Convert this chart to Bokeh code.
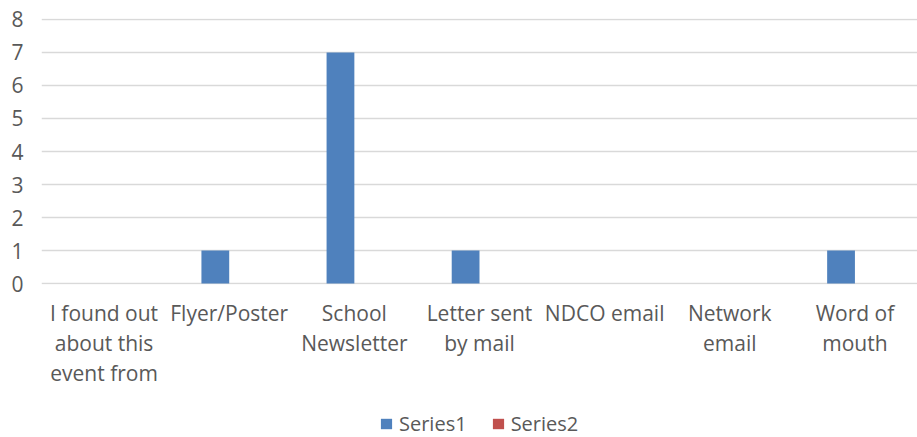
from bokeh.plotting import figure
from bokeh.layouts import column
from bokeh.models import (Range1d, Legend, LegendItem, ColumnDataSource, FixedTicker)
from bokeh.core.properties import value
from bokeh.embed import file_html
from bokeh.resources import INLINE

categories = ["I found out about this event from", "Flyer/Poster", "School Newsletter",
              "Letter sent by mail", "NDCO email", "Network email", "Word of mouth"]
series1 = [0, 1, 7, 1, 0, 0, 1]
series2 = [0, 0, 0, 0, 0, 0, 0]
tick_labels = ["I found out\nabout this\nevent from", "Flyer/Poster", "School\nNewsletter",
               "Letter sent\nby mail", "NDCO email", "Network\nemail", "Word of\nmouth"]
y_ticks = [0, 1, 2, 3, 4, 5, 6, 7, 8]

FONT = "Open Sans"
TXT = "#595959"
FS = "21px"
BAR_W = 0.222
C1, C2 = "#4F81BD", "#C0504D"

centers = [i + 0.5 for i in range(len(categories))]
src = ColumnDataSource(dict(
    x1=[c - BAR_W / 2 for c in centers], x2=[c + BAR_W / 2 for c in centers],
    s1=series1, s2=series2))

# main chart
p = figure(x_range=Range1d(0, len(categories)), y_range=Range1d(-0.03, 8.03),
           frame_width=876, frame_height=266, output_backend="svg", toolbar_location=None,
           x_axis_location=None,
           min_border_left=41, min_border_right=0, min_border_top=18, min_border_bottom=12)
p.outline_line_color = None

r1 = p.vbar(x="x1", top="s1", bottom=0, width=BAR_W, source=src, color=C1, line_color=None)
r2 = p.vbar(x="x2", top="s2", bottom=0, width=BAR_W, source=src, color=C2, line_color=None)

p.xgrid.visible = False
p.ygrid.grid_line_color = "#D9D9D9"
p.ygrid.grid_line_width = 1.3
p.yaxis.ticker = FixedTicker(ticks=y_ticks)
p.yaxis.axis_line_color = None
p.yaxis.major_tick_line_color = None
p.yaxis.minor_tick_line_color = None
p.yaxis.major_label_text_font = FONT
p.yaxis.major_label_text_font_size = FS
p.yaxis.major_label_text_color = TXT
p.yaxis.major_label_standoff = 12

# category labels + legend strip sharing the x scale
q = figure(x_range=p.x_range, y_range=Range1d(0, 141),
           frame_width=876, frame_height=141, output_backend="svg", toolbar_location=None,
           x_axis_location=None, y_axis_location=None,
           min_border_left=41, min_border_right=0, min_border_top=0, min_border_bottom=0)
q.outline_line_color = None
q.xgrid.visible = False
q.ygrid.visible = False

lab_src = ColumnDataSource(dict(x=centers, y=[139] * len(centers), t=tick_labels))
q.text(x="x", y="y", text="t", source=lab_src, text_align="center", text_baseline="top",
       text_font=value(FONT), text_font_size=FS, text_color=TXT, text_line_height=1.08)

# legend keys: same series drawn on a range that keeps them out of view
q.extra_y_ranges = {"keys": Range1d(100, 200)}
g1 = q.vbar(x="x1", top="s1", bottom=0, width=BAR_W, source=src, color=C1,
            line_color=None, y_range_name="keys")
g2 = q.vbar(x="x2", top="s2", bottom=0, width=BAR_W, source=src, color=C2,
            line_color=None, y_range_name="keys")

legend = Legend(items=[LegendItem(label="Series1", renderers=[g1]),
                       LegendItem(label="Series2", renderers=[g2])],
                orientation="horizontal", location=(338, 0),
                label_text_font=FONT, label_text_font_size="20px", label_text_color=TXT,
                glyph_width=14, glyph_height=13, spacing=24, label_standoff=6,
                border_line_color=None, background_fill_alpha=0, margin=0, padding=0)
q.add_layout(legend, "center")

layout = column(p, q, spacing=0)
open("out.html", "w").write(file_html(layout, INLINE))
